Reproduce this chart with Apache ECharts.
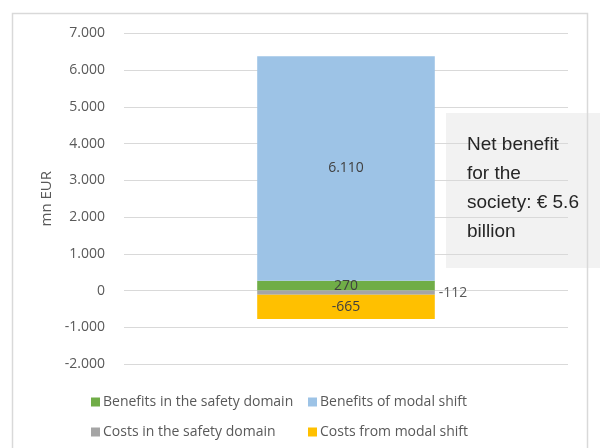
<!DOCTYPE html>
<html>
<head>
<meta charset="utf-8">
<script src="https://cdn.jsdelivr.net/npm/echarts@6/dist/echarts.min.js"></script>
<style>html,body{margin:0;padding:0;background:#fff}#c{width:600px;height:448px}</style>
</head>
<body>
<div id="c"></div>
<script>
var categories = [''];
var seriesNames = ['Benefits in the safety domain', 'Benefits of modal shift', 'Costs in the safety domain', 'Costs from modal shift'];
var benefitsSafety = [270];
var benefitsModal = [6110];
var costsSafety = [-112];
var costsModal = [-665];
var yTicks = { min: -2000, max: 7000, interval: 1000 };
var noteLines = ['Net benefit', 'for the', 'society: € 5.6', 'billion'];

var colors = ['#70ad47', '#9dc3e6', '#a5a5a5', '#ffc000'];
var font = 'Open Sans';
function fmt(v) {
  var s = Math.abs(v).toString().replace(/\B(?=(\d{3})+(?!\d))/g, '.');
  return (v < 0 ? '-' : '') + s;
}
var chart = echarts.init(document.getElementById('c'), null, { renderer: 'canvas' });
function mk(name, data, color, labelPos) {
  return {
    name: name, type: 'bar', stack: 'total', data: data, barWidth: '40%',
    itemStyle: { color: color },
    label: {
      show: true, position: labelPos, distance: 4,
      formatter: function (p) { return fmt(p.value); },
      color: labelPos === 'right' ? '#595959' : '#404040', fontSize: 14, fontFamily: font
    }
  };
}
chart.setOption({
  animation: false,
  textStyle: { fontFamily: font },
  grid: { left: 124, right: 32, top: 33.5, bottom: 84 },
  title: {
    text: noteLines.join('\n'), left: 467, top: 130, padding: 0, itemGap: 0,
    textStyle: { color: '#262626', fontSize: 19, lineHeight: 29, fontWeight: 'normal',
      fontFamily: 'Liberation Sans Narrow, Arial Narrow, sans-serif' }
  },
  xAxis: {
    type: 'category', data: categories,
    axisLine: { show: false }, axisTick: { show: false }, axisLabel: { show: false }
  },
  yAxis: {
    type: 'value', min: yTicks.min, max: yTicks.max, interval: yTicks.interval,
    name: 'mn EUR', nameLocation: 'middle', nameGap: 68, nameRotate: 90,
    nameTextStyle: { color: '#595959', fontSize: 15, fontFamily: font },
    axisLine: { show: false }, axisTick: { show: false },
    axisLabel: { color: '#595959', fontSize: 14, margin: 19, formatter: fmt, fontFamily: font },
    splitLine: { lineStyle: { color: '#d9d9d9', width: 1 } }
  },
  legend: [
    { orient: 'vertical', left: 86, top: 390, itemWidth: 9, itemHeight: 9, itemGap: 16, icon: 'rect',
      data: [seriesNames[0], seriesNames[2]],
      textStyle: { color: '#595959', fontSize: 14, fontFamily: font, padding: [0, 0, 0, -2] } },
    { orient: 'vertical', left: 303, top: 390, itemWidth: 9, itemHeight: 9, itemGap: 16, icon: 'rect',
      data: [seriesNames[1], seriesNames[3]],
      textStyle: { color: '#595959', fontSize: 14, fontFamily: font, padding: [0, 0, 0, -2] } }
  ],
  graphic: {
    zlevel: -1,
    elements: [
      { type: 'rect', shape: { x: 446, y: 113, width: 154, height: 155 }, style: { fill: '#f2f2f2' } },
      { type: 'rect', shape: { x: 12.5, y: 13.5, width: 575, height: 450 }, style: { fill: 'none', stroke: '#d9d9d9', lineWidth: 1.5 } }
    ]
  },
  series: [
    mk(seriesNames[0], benefitsSafety, colors[0], 'inside'),
    mk(seriesNames[1], benefitsModal, colors[1], 'inside'),
    mk(seriesNames[2], costsSafety, colors[2], 'right'),
    mk(seriesNames[3], costsModal, colors[3], 'inside')
  ]
});
</script>
</body>
</html>
